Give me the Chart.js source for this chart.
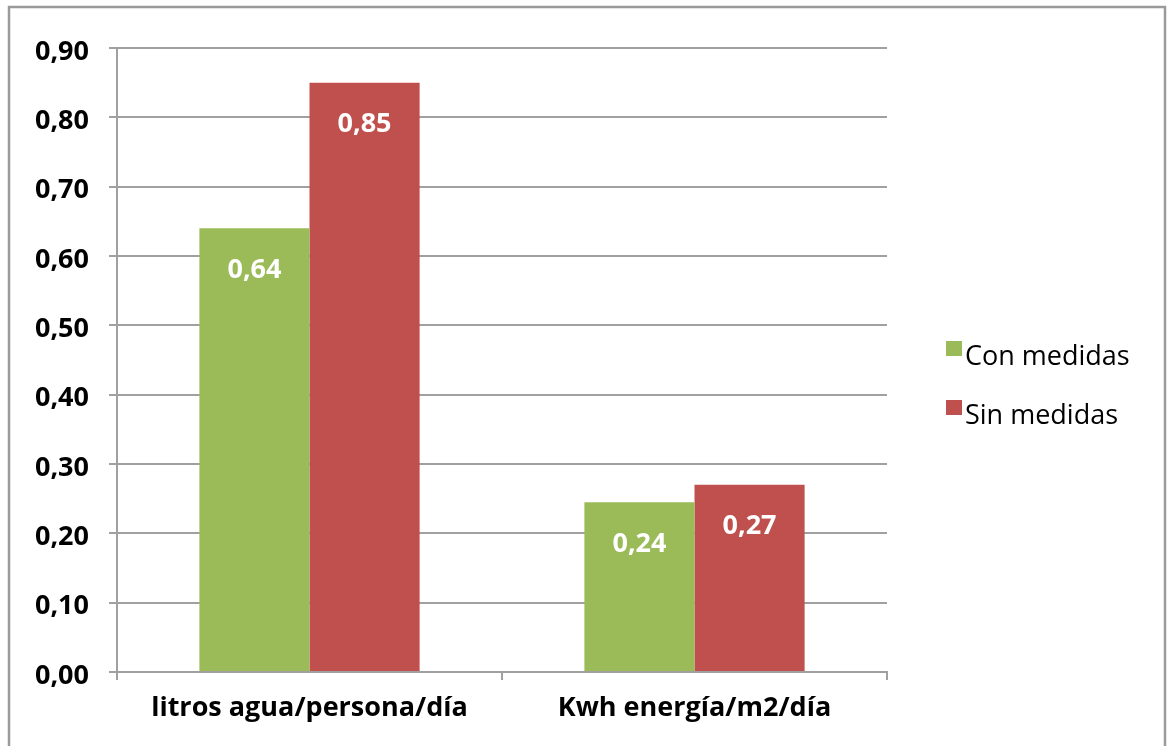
<!DOCTYPE html>
<html>
<head>
<meta charset="utf-8">
<script src="https://cdn.jsdelivr.net/npm/chart.js@4.4.1/dist/chart.umd.min.js"></script>
<style>
  html, body { margin: 0; padding: 0; background: #fff; }
  #wrap { width: 1173px; height: 746px; position: relative; }
</style>
</head>
<body>
<div id="wrap"><canvas id="grafico" width="1173" height="746"></canvas></div>
<script>
// Datos del gráfico
const categorias = ["litros agua/persona/día", "Kwh energía/m2/día"];
const conMedidas = [0.64, 0.245];
const sinMedidas = [0.85, 0.27];
const nombresSeries = ["Con medidas", "Sin medidas"];
const coloresSeries = ["#9BBB59", "#C0504D"];

const fuente = "'Open Sans', 'Noto Sans', sans-serif";
const gris = "#a0a0a0";

// Formato con coma decimal
const formato = (v) => v.toFixed(2).replace(".", ",");

// Marco exterior + etiquetas + leyenda
const extras = {
  id: "extras",
  beforeDraw(chart) {
    const ctx = chart.ctx;
    ctx.save();
    ctx.fillStyle = "#fff";
    ctx.fillRect(0, 0, chart.width, chart.height);
    ctx.strokeStyle = "#9a9a9a";
    ctx.lineWidth = 2.5;
    ctx.strokeRect(9, 7, 1156, 760);
    ctx.restore();
  },
  afterDatasetsDraw(chart) {
    const ctx = chart.ctx;
    ctx.save();
    ctx.fillStyle = "#fff";
    ctx.font = "bold 27px " + fuente;
    ctx.textAlign = "center";
    ctx.textBaseline = "middle";
    chart.data.datasets.forEach((ds, i) => {
      chart.getDatasetMeta(i).data.forEach((bar, j) => {
        ctx.fillText(formato(ds.data[j]), bar.x, bar.y + 42);
      });
    });
    // leyenda
    ctx.font = "27px " + fuente;
    ctx.textAlign = "left";
    chart.data.datasets.forEach((ds, i) => {
      const y = 341 + i * 59;
      ctx.fillStyle = ds.backgroundColor;
      ctx.fillRect(946, y, 16, 15);
      ctx.fillStyle = "#000";
      ctx.fillText(ds.label, 965, y + 16);
    });
    ctx.restore();
  }
};

new Chart(document.getElementById("grafico"), {
  type: "bar",
  plugins: [extras],
  data: {
    labels: categorias,
    datasets: [
      { label: nombresSeries[0], data: conMedidas, backgroundColor: coloresSeries[0] },
      { label: nombresSeries[1], data: sinMedidas, backgroundColor: coloresSeries[1] }
    ]
  },
  options: {
    responsive: false,
    animation: false,
    devicePixelRatio: 1,
    layout: { padding: { left: 0, top: 48, right: 286, bottom: 0 } },
    datasets: { bar: { categoryPercentage: 0.572, barPercentage: 1 } },
    plugins: { legend: { display: false }, tooltip: { enabled: false } },
    scales: {
      x: {
        afterFit(s) { s.height = 74; },
        grid: { drawOnChartArea: false, drawTicks: true, tickLength: 8, color: gris, lineWidth: 2 },
        border: { color: gris, width: 2 },
        ticks: { color: "#000", font: { family: fuente, size: 27, weight: "bold" }, padding: 12 }
      },
      y: {
        min: 0,
        max: 0.9,
        afterFit(s) { s.width = 117; },
        grid: { color: gris, lineWidth: 2, tickLength: 8 },
        border: { color: gris, width: 2 },
        ticks: {
          stepSize: 0.1,
          color: "#000",
          padding: 20,
          labelOffset: 4,
          font: { family: fuente, size: 27, weight: "bold" },
          callback: (v) => formato(v)
        }
      }
    }
  }
});
</script>
</body>
</html>
